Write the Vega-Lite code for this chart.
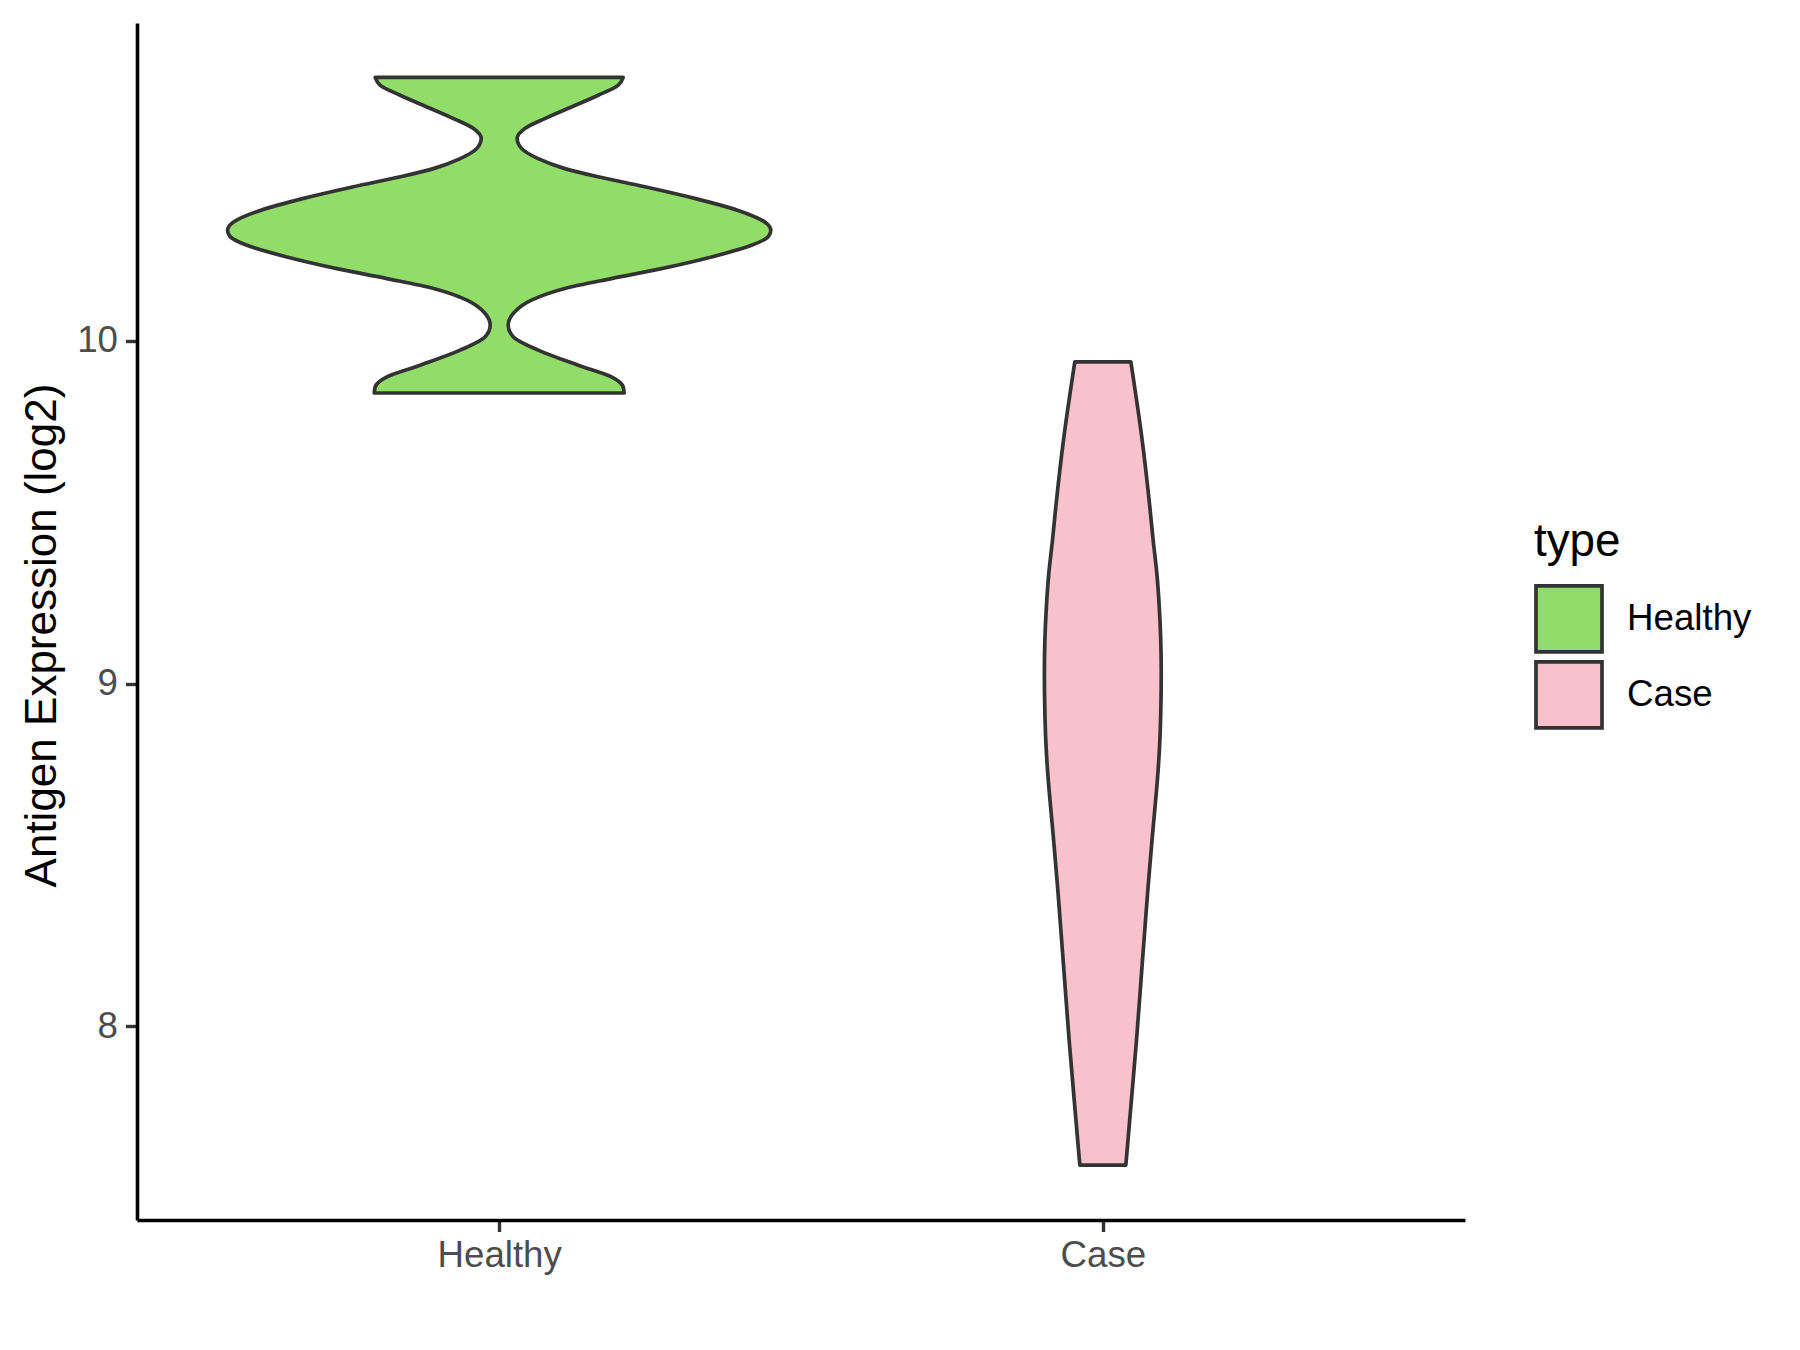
{
  "$schema": "https://vega.github.io/schema/vega-lite/v6.json",
  "width": 1328,
  "height": 1197,
  "autosize": {"type": "none"},
  "padding": {"left": 137, "top": 23, "right": 335, "bottom": 130},
  "background": "white",
  "config": {
    "view": {"stroke": null},
    "font": "Liberation Sans"
  },
  "data": {
    "values": [
      {"type": "Healthy", "expr": 10.769, "xmin": 0.7946, "xmax": 1.2054},
      {"type": "Healthy", "expr": 10.746, "xmin": 0.803, "xmax": 1.197},
      {"type": "Healthy", "expr": 10.717, "xmin": 0.836, "xmax": 1.164},
      {"type": "Healthy", "expr": 10.683, "xmin": 0.8802, "xmax": 1.1198},
      {"type": "Healthy", "expr": 10.649, "xmin": 0.9243, "xmax": 1.0757},
      {"type": "Healthy", "expr": 10.62, "xmin": 0.9574, "xmax": 1.0426},
      {"type": "Healthy", "expr": 10.591, "xmin": 0.9702, "xmax": 1.0298},
      {"type": "Healthy", "expr": 10.562, "xmin": 0.963, "xmax": 1.037},
      {"type": "Healthy", "expr": 10.532, "xmin": 0.9354, "xmax": 1.0646},
      {"type": "Healthy", "expr": 10.503, "xmin": 0.8912, "xmax": 1.1088},
      {"type": "Healthy", "expr": 10.479, "xmin": 0.836, "xmax": 1.164},
      {"type": "Healthy", "expr": 10.45, "xmin": 0.7587, "xmax": 1.2413},
      {"type": "Healthy", "expr": 10.416, "xmin": 0.6759, "xmax": 1.3241},
      {"type": "Healthy", "expr": 10.381, "xmin": 0.6041, "xmax": 1.3959},
      {"type": "Healthy", "expr": 10.347, "xmin": 0.5599, "xmax": 1.4401},
      {"type": "Healthy", "expr": 10.323, "xmin": 0.55, "xmax": 1.45},
      {"type": "Healthy", "expr": 10.304, "xmin": 0.5544, "xmax": 1.4456},
      {"type": "Healthy", "expr": 10.279, "xmin": 0.582, "xmax": 1.418},
      {"type": "Healthy", "expr": 10.245, "xmin": 0.6483, "xmax": 1.3517},
      {"type": "Healthy", "expr": 10.211, "xmin": 0.7311, "xmax": 1.2689},
      {"type": "Healthy", "expr": 10.182, "xmin": 0.814, "xmax": 1.186},
      {"type": "Healthy", "expr": 10.153, "xmin": 0.8912, "xmax": 1.1088},
      {"type": "Healthy", "expr": 10.119, "xmin": 0.9465, "xmax": 1.0535},
      {"type": "Healthy", "expr": 10.08, "xmin": 0.9768, "xmax": 1.0232},
      {"type": "Healthy", "expr": 10.046, "xmin": 0.9851, "xmax": 1.0149},
      {"type": "Healthy", "expr": 10.012, "xmin": 0.9768, "xmax": 1.0232},
      {"type": "Healthy", "expr": 9.973, "xmin": 0.9354, "xmax": 1.0646},
      {"type": "Healthy", "expr": 9.929, "xmin": 0.8691, "xmax": 1.1309},
      {"type": "Healthy", "expr": 9.895, "xmin": 0.814, "xmax": 1.186},
      {"type": "Healthy", "expr": 9.866, "xmin": 0.7946, "xmax": 1.2054},
      {"type": "Healthy", "expr": 9.848, "xmin": 0.793, "xmax": 1.207},
      {"type": "Case", "expr": 9.939, "xmin": 1.9536, "xmax": 2.0464},
      {"type": "Case", "expr": 9.71, "xmin": 1.9348, "xmax": 2.0652},
      {"type": "Case", "expr": 9.515, "xmin": 1.9221, "xmax": 2.0779},
      {"type": "Case", "expr": 9.418, "xmin": 1.9166, "xmax": 2.0834},
      {"type": "Case", "expr": 9.321, "xmin": 1.9105, "xmax": 2.0895},
      {"type": "Case", "expr": 9.224, "xmin": 1.9065, "xmax": 2.0935},
      {"type": "Case", "expr": 9.126, "xmin": 1.904, "xmax": 2.096},
      {"type": "Case", "expr": 9.029, "xmin": 1.9032, "xmax": 2.0968},
      {"type": "Case", "expr": 8.932, "xmin": 1.9038, "xmax": 2.0962},
      {"type": "Case", "expr": 8.834, "xmin": 1.9055, "xmax": 2.0945},
      {"type": "Case", "expr": 8.737, "xmin": 1.9088, "xmax": 2.0912},
      {"type": "Case", "expr": 8.64, "xmin": 1.9135, "xmax": 2.0865},
      {"type": "Case", "expr": 8.543, "xmin": 1.9185, "xmax": 2.0815},
      {"type": "Case", "expr": 8.407, "xmin": 1.925, "xmax": 2.075},
      {"type": "Case", "expr": 8.308, "xmin": 1.9293, "xmax": 2.0707},
      {"type": "Case", "expr": 8.154, "xmin": 1.9359, "xmax": 2.0641},
      {"type": "Case", "expr": 7.959, "xmin": 1.9442, "xmax": 2.0558},
      {"type": "Case", "expr": 7.764, "xmin": 1.9536, "xmax": 2.0464},
      {"type": "Case", "expr": 7.594, "xmin": 1.9619, "xmax": 2.0381}
    ]
  },
  "mark": {
    "type": "area",
    "orient": "horizontal",
    "interpolate": "monotone",
    "stroke": "#333333",
    "strokeWidth": 3.7,
    "strokeJoin": "round",
    "fillOpacity": 1
  },
  "encoding": {
    "y": {
      "field": "expr",
      "type": "quantitative",
      "scale": {"domain": [7.434, 10.928], "nice": false, "zero": false},
      "axis": {
        "values": [8, 9, 10],
        "grid": false,
        "title": "Antigen Expression (log2)",
        "titleFontSize": 44,
        "titleFontWeight": "normal",
        "titleColor": "#000000",
        "titleAngle": -90,
        "titleX": -82,
        "titleY": 612,
        "titleAlign": "center",
        "titleBaseline": "alphabetic",
        "labelFontSize": 36.7,
        "labelColor": "#4D4D4D",
        "labelPadding": 8,
        "tickSize": 11.5,
        "tickWidth": 3.4,
        "tickColor": "#333333",
        "domainColor": "#000000",
        "domainWidth": 3.6
      }
    },
    "x": {
      "field": "xmin",
      "type": "quantitative",
      "scale": {"domain": [0.4, 2.6], "nice": false, "zero": false},
      "axis": {
        "values": [1, 2],
        "labelExpr": "datum.value == 1 ? 'Healthy' : 'Case'",
        "grid": false,
        "title": null,
        "labelFontSize": 36.7,
        "labelColor": "#4D4D4D",
        "labelPadding": 6,
        "tickSize": 11.5,
        "tickWidth": 3.4,
        "tickColor": "#333333",
        "domainColor": "#000000",
        "domainWidth": 3.6
      }
    },
    "x2": {"field": "xmax"},
    "color": {
      "field": "type",
      "type": "nominal",
      "scale": {"domain": ["Healthy", "Case"], "range": ["#92DC6A", "#F8C1CB"]},
      "legend": {
        "title": "type",
        "orient": "none",
        "legendX": 1397,
        "legendY": 497,
        "padding": 0,
        "titleFontSize": 45.8,
        "titleFontWeight": "normal",
        "titleColor": "#000000",
        "titlePadding": 18,
        "labelFontSize": 36.7,
        "labelColor": "#000000",
        "labelOffset": 23,
        "symbolType": "square",
        "symbolSize": 4356,
        "symbolStrokeColor": "#333333",
        "symbolStrokeWidth": 3.7,
        "symbolOpacity": 1,
        "rowPadding": -9
      }
    }
  }
}
